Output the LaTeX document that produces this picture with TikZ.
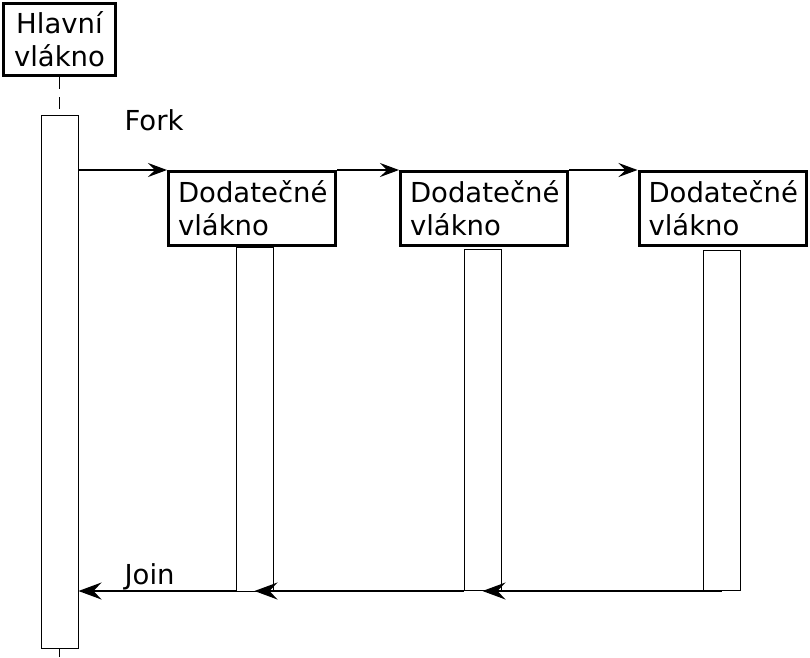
\documentclass[tikz,border=0pt]{standalone}
\usepackage{fontspec}
\setmainfont{DejaVu Sans}
\usetikzlibrary{arrows.meta,positioning}

\begin{document}
\begin{tikzpicture}[x=1pt,y=-1pt,
  line width=1.2pt,
  forkmsg/.style={-{Stealth[length=19pt,width=14pt,inset=7pt]}},
  joinmsg/.style={-{Stealth[length=23pt,width=17pt,inset=8pt]}},
  box/.style={draw,line width=3pt,font=\fontsize{27.5}{33}\selectfont},
  mainbox/.style={box,align=center,minimum width=112pt,minimum height=72pt,inner sep=0pt},
  thread/.style={box,align=left,text width=148pt,inner xsep=9.5pt,inner ysep=0pt,minimum height=74pt},
  bar/.style={draw,line width=1pt,minimum width=37pt,inner sep=0pt},
  lifeline/.style={draw,line width=1pt,dash pattern=on 12pt off 8pt},
  lbl/.style={font=\fontsize{27.5}{33}\selectfont,anchor=base west,inner sep=0pt}]

 \useasboundingbox (0,0) rectangle (810,657);

 % main thread
 \node[mainbox] (main) at (59.5,39.5) {Hlavní\\vlákno};
 \node[bar,minimum height=533pt] (mainbar) at (59.5,381.5) {};
 \coordinate (end) at (59.5,657);
 \draw[lifeline] (main.south) -- (mainbar.north);
 \draw[lifeline] (mainbar.south) -- (end);

 % extra threads
 \node[thread] (t1) at (252,208.5) {Dodatečné\\vlákno};
 \node[thread] (t2) at (484,208.5) {Dodatečné\\vlákno};
 \node[thread] (t3) at (722.5,208.5) {Dodatečné\\vlákno};
 \node[bar,minimum height=344pt] (b1) at (254.5,419) {};
 \node[bar,minimum height=341pt] (b2) at (482.5,419.5) {};
 \node[bar,minimum height=340pt] (b3) at (721.5,420) {};

 \node[lbl] (fork) at (124,130) {Fork};
 \node[lbl] (join) at (124,584) {Join};

 % fork
 \draw[forkmsg] (mainbar.east |- t1.north) -- (t1.north west);
 \draw[forkmsg] (t1.north east) -- (t2.north west);
 \draw[forkmsg] (t2.north east) -- (t3.north west);

 % join
 \coordinate (j) at (0,591);
 \draw[joinmsg] (b3 |- j) -- (b2 |- j);
 \draw[joinmsg] (b2.west |- j) -- (b1 |- j);
 \draw[joinmsg] (b1.west |- j) -- (mainbar.east |- j);

\end{tikzpicture}
\end{document}
